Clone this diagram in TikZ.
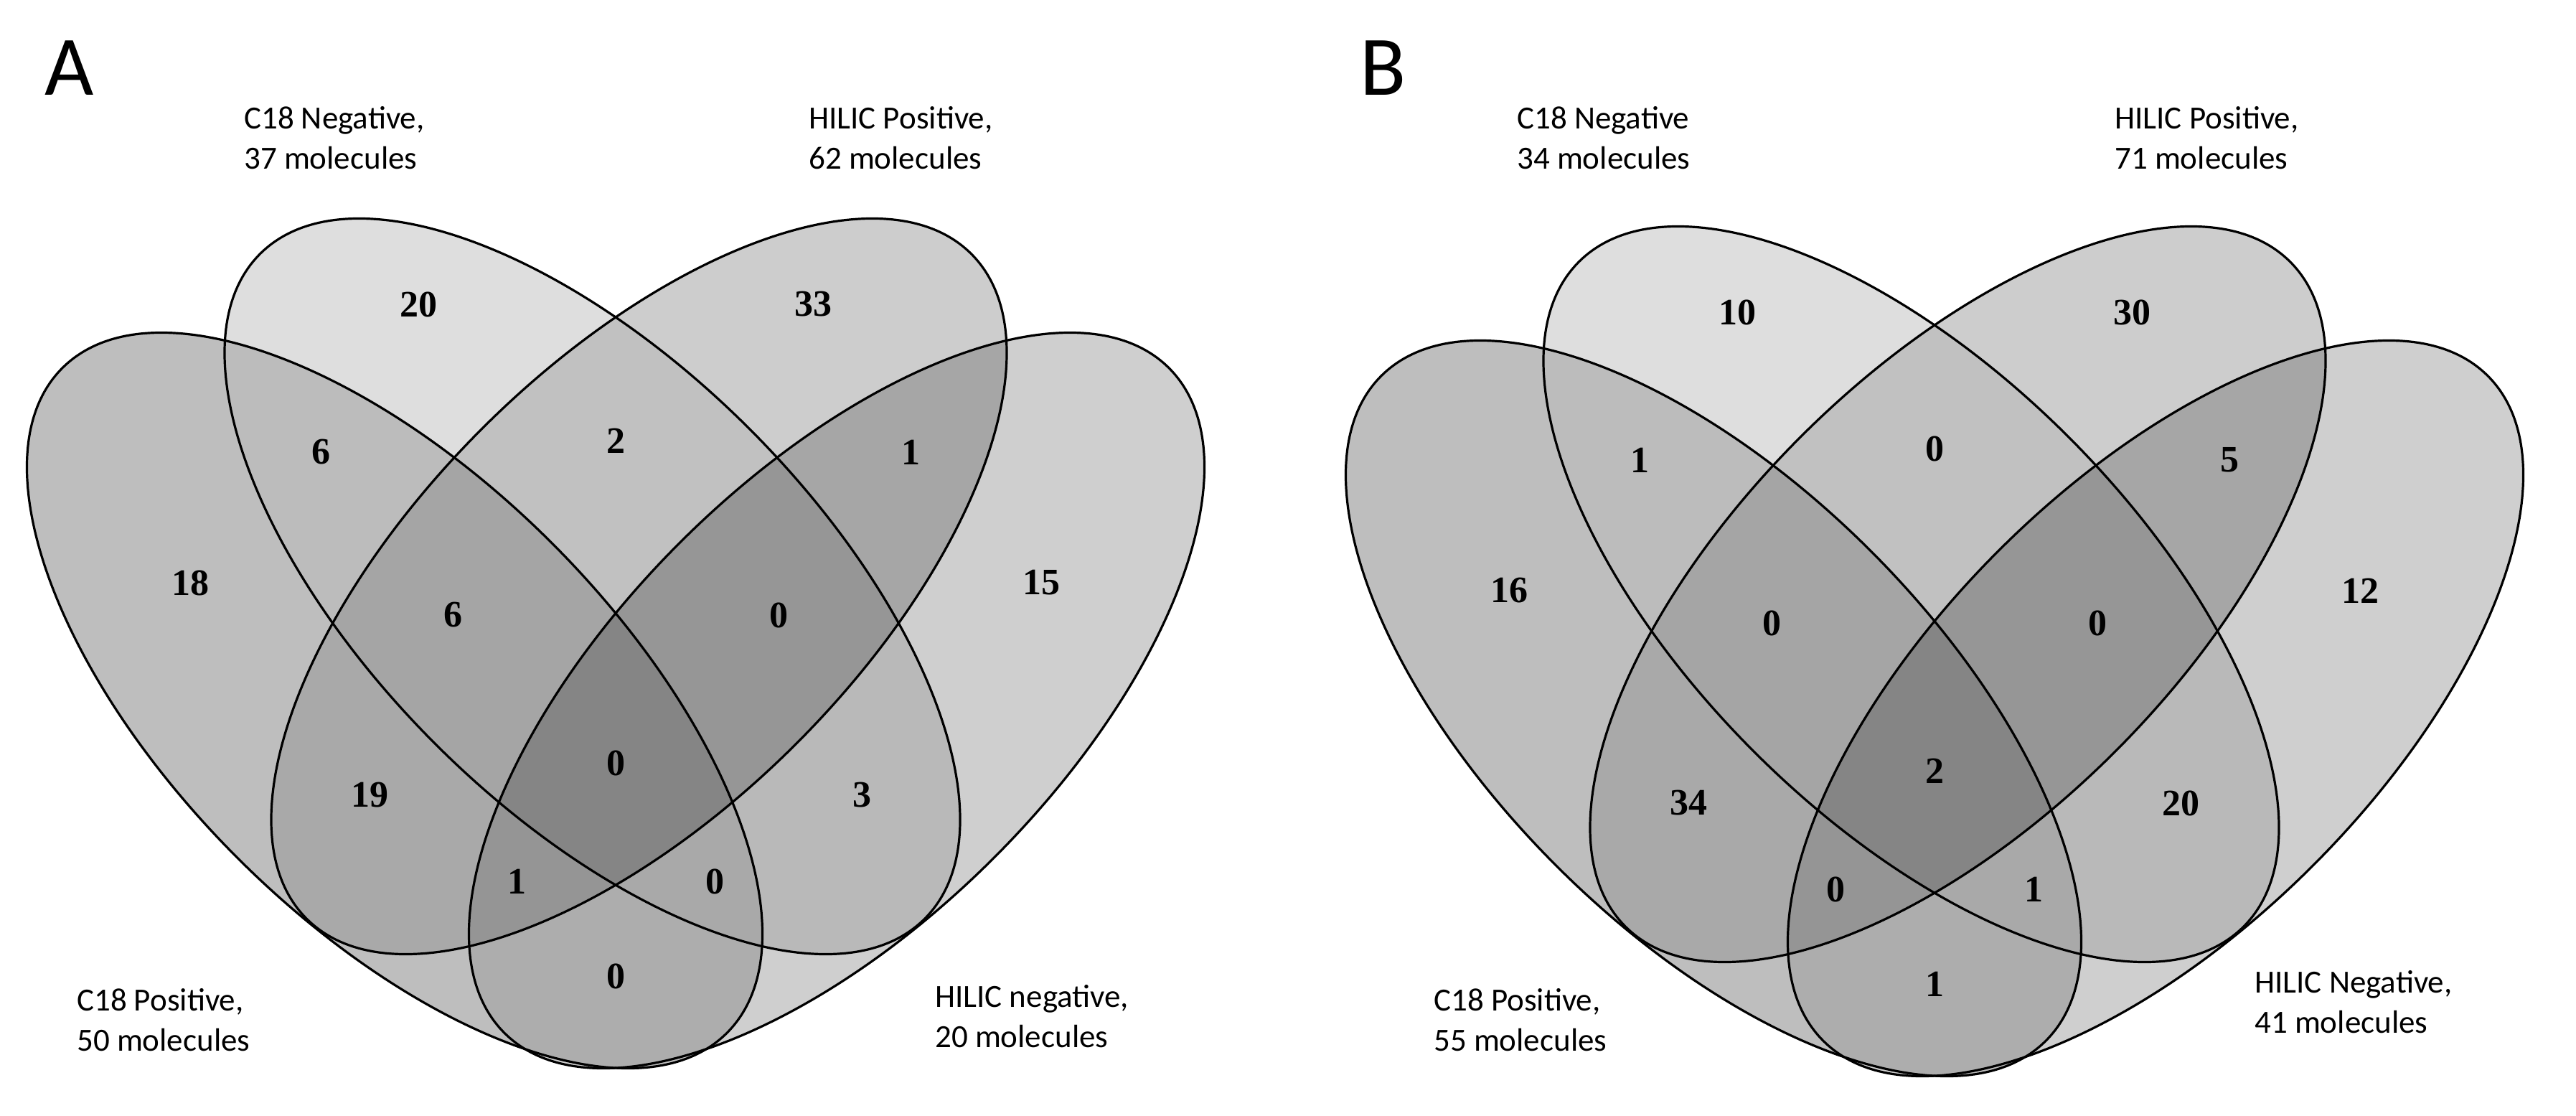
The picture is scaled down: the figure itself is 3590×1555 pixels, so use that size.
\documentclass[tikz,border=0pt]{standalone}
\usepackage{fontspec}
\setmainfont{Liberation Serif}
\newfontfamily\lblfont{Carlito}
\definecolor{cP}{HTML}{BEBEBE}
\definecolor{cN}{HTML}{DEDEDE}
\definecolor{cH}{HTML}{CDCDCD}
\definecolor{cQ}{HTML}{CFCFCF}
\definecolor{cPN}{HTML}{BCBCBC}
\definecolor{cNH}{HTML}{C1C1C1}
\definecolor{cHQ}{HTML}{A6A6A6}
\definecolor{cPH}{HTML}{A9A9A9}
\definecolor{cNQ}{HTML}{B9B9B9}
\definecolor{cPQ}{HTML}{ADADAD}
\definecolor{cPNH}{HTML}{A5A5A5}
\definecolor{cNHQ}{HTML}{969696}
\definecolor{cPHQ}{HTML}{959595}
\definecolor{cPNQ}{HTML}{A9A9A9}
\definecolor{cPNHQ}{HTML}{858585}
\tikzset{
  vline/.style={draw=black, line width=3.2pt},
  vnum/.style={font=\fontsize{52}{60}\selectfont\bfseries, inner sep=0pt, anchor=center},
  vlbl/.style={font=\lblfont\fontsize{45}{56}\selectfont, inner sep=0pt, anchor=base west},
  vhead/.style={font=\lblfont\fontsize{118}{140}\selectfont, inner sep=0pt, anchor=base west},
  rotP/.style={rotate around={-45:(550,976)}},
  rotN/.style={rotate around={-45:(825.5,817)}},
  rotH/.style={rotate around={45:(890.5,817)}},
  rotQ/.style={rotate around={45:(1166,976)}},
  erad/.style={x radius=655pt, y radius=310pt}
}
\newcommand\vclipP{\clip[rotP] (550,976) ellipse [erad];}
\newcommand\vclipN{\clip[rotN] (825.5,817) ellipse [erad];}
\newcommand\vclipH{\clip[rotH] (890.5,817) ellipse [erad];}
\newcommand\vclipQ{\clip[rotQ] (1166,976) ellipse [erad];}
\newcommand\vreg[2]{\begin{scope}#2\fill[#1] (0,0) rectangle (1800,1555);\end{scope}}
\newcommand\twoline[2]{\begin{tabular}[t]{@{}l@{}}#1\\#2\end{tabular}}
\newcommand\vshapes{%
  \vreg{cP}{\vclipP}
  \vreg{cN}{\vclipN}
  \vreg{cH}{\vclipH}
  \vreg{cQ}{\vclipQ}
  \vreg{cPN}{\vclipP\vclipN}
  \vreg{cPH}{\vclipP\vclipH}
  \vreg{cPQ}{\vclipP\vclipQ}
  \vreg{cNH}{\vclipN\vclipH}
  \vreg{cNQ}{\vclipN\vclipQ}
  \vreg{cHQ}{\vclipH\vclipQ}
  \vreg{cPNH}{\vclipP\vclipN\vclipH}
  \vreg{cPNQ}{\vclipP\vclipN\vclipQ}
  \vreg{cPHQ}{\vclipP\vclipH\vclipQ}
  \vreg{cNHQ}{\vclipN\vclipH\vclipQ}
  \vreg{cPNHQ}{\vclipP\vclipN\vclipH\vclipQ}
  \draw[vline, rotP] (550,976) ellipse [erad];
  \draw[vline, rotN] (825.5,817) ellipse [erad];
  \draw[vline, rotH] (890.5,817) ellipse [erad];
  \draw[vline, rotQ] (1166,976) ellipse [erad];
}
\begin{document}
\begin{tikzpicture}[x=1pt, y=-1pt]
\useasboundingbox (0,0) rectangle (3590,1555);
\fill[white] (0,0) rectangle (3590,1555);
% ---------- Panel A ----------
\begin{scope}
  \vshapes
  \node[vnum] (aN)    at (583,424)  {20};
  \node[vnum] (aH)    at (1133,424) {33};
  \node[vnum] (aPN)   at (447,630)  {6};
  \node[vnum] (aNH)   at (858,614)  {2};
  \node[vnum] (aHQ)   at (1269,630) {1};
  \node[vnum] (aP)    at (265,812)  {18};
  \node[vnum] (aPNH)  at (631,857)  {6};
  \node[vnum] (aNHQ)  at (1085,857) {0};
  \node[vnum] (aQ)    at (1451,812) {15};
  \node[vnum] (aAll)  at (858,1063) {0};
  \node[vnum] (aPH)   at (515,1108) {19};
  \node[vnum] (aNQ)   at (1201,1108) {3};
  \node[vnum] (aPHQ)  at (720,1228) {1};
  \node[vnum] (aPNQ)  at (996,1228) {0};
  \node[vnum] (aPQ)   at (858,1360) {0};
\end{scope}
\node[vhead] (headA) at (62,132) {A};
\node[vlbl] (lblAN) at (340,179)  {\twoline{C18 Negative,}{37 molecules}};
\node[vlbl] (lblAH) at (1127,179) {\twoline{HILIC Positive,}{62 molecules}};
\node[vlbl] (lblAP) at (107,1408) {\twoline{C18 Positive,}{50 molecules}};
\node[vlbl] (lblAQ) at (1303,1403) {\twoline{HILIC negative,}{20 molecules}};
% ---------- Panel B ----------
\begin{scope}[shift={(1838,11)}]
  \vshapes
  \node[vnum] (bN)    at (583,424)  {10};
  \node[vnum] (bH)    at (1133,424) {30};
  \node[vnum] (bPN)   at (447,630)  {1};
  \node[vnum] (bNH)   at (858,614)  {0};
  \node[vnum] (bHQ)   at (1269,630) {5};
  \node[vnum] (bP)    at (265,812)  {16};
  \node[vnum] (bPNH)  at (631,857)  {0};
  \node[vnum] (bNHQ)  at (1085,857) {0};
  \node[vnum] (bQ)    at (1451,812) {12};
  \node[vnum] (bAll)  at (858,1063) {2};
  \node[vnum] (bPH)   at (515,1108) {34};
  \node[vnum] (bNQ)   at (1201,1108) {20};
  \node[vnum] (bPHQ)  at (720,1228) {0};
  \node[vnum] (bPNQ)  at (996,1228) {1};
  \node[vnum] (bPQ)   at (858,1360) {1};
\end{scope}
\node[vhead] (headB) at (1895,132) {B};
\node[vlbl] (lblBN) at (2114,179)  {\twoline{C18 Negative}{34 molecules}};
\node[vlbl] (lblBH) at (2947,179)  {\twoline{HILIC Positive,}{71 molecules}};
\node[vlbl] (lblBP) at (1998,1408) {\twoline{C18 Positive,}{55 molecules}};
\node[vlbl] (lblBQ) at (3142,1383) {\twoline{HILIC Negative,}{41 molecules}};
\end{tikzpicture}
\end{document}
